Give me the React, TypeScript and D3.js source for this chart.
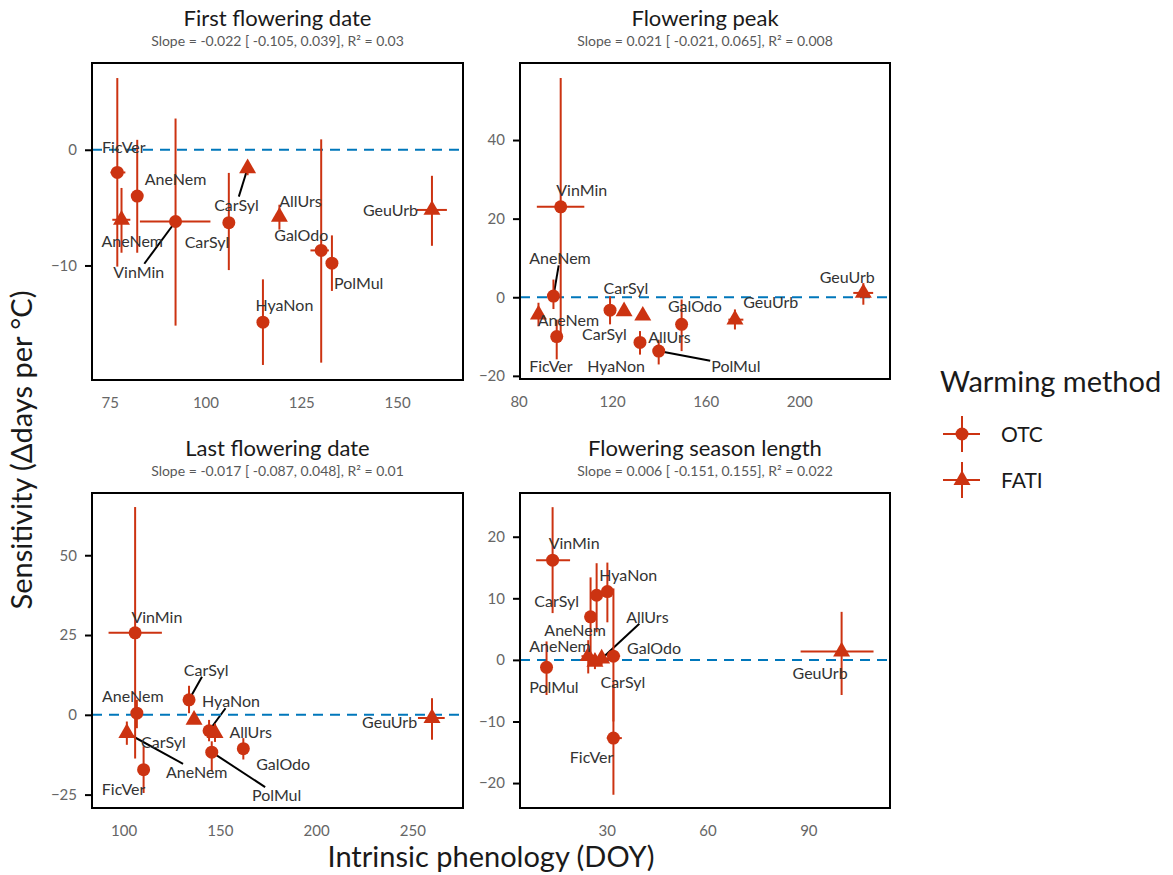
import React, { useRef, useEffect } from 'react'
import * as d3 from 'd3'

// species, method, doy, doyLo, doyHi, sensitivity, sensLo, sensHi
type Row = [string, string, number, number, number, number, number, number]
// label position (data units) and whether ggrepel drew a segment
type Lab = [number, number, boolean]

const methods = ['OTC', 'FATI']

const firstRows: Row[] = [
    ['FicVer', 'OTC', 77.0, 75.2, 79.1, -1.96, -10.1, 6.2],
    ['AneNem', 'OTC', 82.2, 81.5, 82.9, -4.0, -8.9, 0.86],
    ['AneNem', 'FATI', 78.1, 75.7, 80.4, -6.05, -8.9, -3.3],
    ['VinMin', 'OTC', 92.2, 82.9, 101.3, -6.2, -15.2, 2.7],
    ['CarSyl', 'OTC', 106.1, 105.5, 106.7, -6.3, -10.4, -2.0],
    ['CarSyl', 'FATI', 111.0, 110.3, 111.7, -1.6, -2.2, -1.0],
    ['AllUrs', 'FATI', 119.3, 118.6, 120.0, -5.8, -6.9, -4.75],
    ['GalOdo', 'OTC', 130.2, 127.4, 132.2, -8.7, -18.4, 0.9],
    ['PolMul', 'OTC', 133.0, 132.4, 133.6, -9.8, -12.2, -7.4],
    ['HyaNon', 'OTC', 115.0, 114.4, 115.6, -14.9, -18.6, -11.2],
    ['GeuUrb', 'FATI', 159.1, 155.2, 163.0, -5.2, -8.3, -2.25],
]
const firstLabels: Lab[] = [
    [78.7, 0.3, false],
    [92.2, -2.5, false],
    [80.9, -7.8, false],
    [82.6, -10.5, true],
    [100.4, -7.9, false],
    [108.1, -4.7, true],
    [124.8, -4.4, false],
    [125.0, -7.3, false],
    [140.0, -11.5, false],
    [120.6, -13.4, false],
    [148.3, -5.2, false],
]

const peakRows: Row[] = [
    ['VinMin', 'OTC', 98.0, 87.8, 108.1, 23.0, -9.8, 55.8],
    ['AneNem', 'OTC', 94.9, 94.0, 95.8, 0.3, -3.0, 4.5],
    ['AneNem', 'FATI', 88.5, 87.5, 89.5, -4.4, -7.4, -1.4],
    ['FicVer', 'OTC', 96.3, 95.5, 97.1, -10.0, -15.8, -5.7],
    ['CarSyl', 'OTC', 119.1, 118.3, 119.9, -3.3, -6.9, 0.25],
    ['CarSyl', 'FATI', 125.1, 124.3, 125.9, -3.6, -4.2, -3.0],
    ['AllUrs', 'FATI', 133.1, 132.3, 133.9, -4.7, -5.3, -4.1],
    ['HyaNon', 'OTC', 131.9, 131.1, 132.7, -11.5, -14.6, -8.6],
    ['PolMul', 'OTC', 139.9, 139.1, 140.7, -13.7, -17.1, -10.8],
    ['GalOdo', 'OTC', 149.7, 148.9, 150.5, -6.9, -13.7, -0.6],
    ['GeuUrb', 'FATI', 172.5, 169.7, 176.1, -5.7, -8.2, -3.1],
    ['GeuUrb', 'FATI', 227.4, 223.1, 231.6, 1.1, -1.9, 3.6],
]
const peakLabels: Lab[] = [
    [107.0, 27.4, false],
    [97.7, 10.0, true],
    [101.3, -5.7, false],
    [93.8, -17.4, false],
    [125.9, 2.4, false],
    [116.7, -9.3, false],
    [144.5, -10.1, false],
    [121.7, -17.4, false],
    [172.9, -17.4, true],
    [155.4, -2.1, false],
    [187.8, -1.0, false],
    [220.5, 5.3, false],
]

const lastRows: Row[] = [
    ['VinMin', 'OTC', 106.0, 92.2, 119.9, 25.7, -13.7, 65.1],
    ['AneNem', 'OTC', 106.9, 106.0, 107.8, 0.5, -4.2, 4.7],
    ['AneNem', 'FATI', 101.7, 100.8, 102.6, -5.7, -9.4, -2.1],
    ['FicVer', 'OTC', 110.4, 109.5, 111.3, -17.2, -24.5, -9.9],
    ['CarSyl', 'OTC', 134.0, 133.1, 134.9, 4.7, 0.5, 9.1],
    ['CarSyl', 'FATI', 136.6, 135.7, 137.5, -1.6, -2.5, -0.7],
    ['HyaNon', 'OTC', 144.4, 143.5, 145.3, -5.0, -8.3, -1.6],
    ['AllUrs', 'FATI', 147.5, 146.6, 148.4, -5.7, -8.5, -2.8],
    ['PolMul', 'OTC', 145.8, 144.9, 146.7, -11.7, -17.7, -8.3],
    ['GalOdo', 'OTC', 162.2, 161.3, 163.1, -10.6, -14.0, -7.3],
    ['GeuUrb', 'FATI', 260.2, 252.9, 266.8, -1.0, -7.8, 5.2],
]
const lastLabels: Lab[] = [
    [117.3, 30.9, false],
    [104.8, 5.9, false],
    [138.0, -17.7, true],
    [100.0, -23.2, false],
    [142.9, 14.3, true],
    [120.7, -8.3, false],
    [155.8, 4.4, true],
    [166.0, -5.2, false],
    [179.5, -25.0, true],
    [182.9, -15.1, false],
    [238.2, -2.1, false],
]

const lengthRows: Row[] = [
    ['VinMin', 'OTC', 13.9, 9.0, 19.1, 16.2, 7.6, 24.8],
    ['CarSyl', 'OTC', 27.0, 26.5, 27.5, 10.5, 4.5, 15.7],
    ['HyaNon', 'OTC', 30.2, 29.7, 30.7, 11.1, 6.1, 15.8],
    ['AneNem', 'OTC', 25.2, 24.7, 25.7, 7.0, 1.1, 13.4],
    ['AneNem', 'FATI', 24.5, 22.5, 26.5, 0.6, -2.2, 3.2],
    ['CarSyl', 'FATI', 26.5, 24.5, 28.5, -0.3, -1.5, 1.0],
    ['AllUrs', 'FATI', 28.5, 26.5, 30.5, 0.2, -0.8, 1.2],
    ['GalOdo', 'OTC', 32.0, 30.5, 34.0, 0.6, -10.0, 11.6],
    ['PolMul', 'OTC', 12.1, 11.6, 12.6, -1.2, -5.7, 3.0],
    ['FicVer', 'OTC', 32.0, 30.0, 34.5, -12.7, -21.9, -4.0],
    ['GeuUrb', 'FATI', 99.9, 87.7, 109.4, 1.35, -5.7, 7.8],
]
const lengthLabels: Lab[] = [
    [20.3, 19.0, false],
    [15.1, 9.7, false],
    [36.4, 13.8, false],
    [20.6, 4.9, false],
    [16.1, 2.3, false],
    [34.8, -3.5, false],
    [42.1, 7.1, true],
    [44.1, 2.0, false],
    [14.3, -4.3, false],
    [25.5, -15.7, false],
    [93.5, -2.0, false],
]

const panelTitles = ['First flowering date', 'Flowering peak', 'Last flowering date', 'Flowering season length']
const panelSubtitles = [
    'Slope = -0.022 [ -0.105, 0.039], R\u00b2 = 0.03',
    'Slope = 0.021 [ -0.021, 0.065], R\u00b2 = 0.008',
    'Slope = -0.017 [ -0.087, 0.048], R\u00b2 = 0.01',
    'Slope = 0.006 [ -0.151, 0.155], R\u00b2 = 0.022',
]
const xTickValues = [[75, 100, 125, 150], [80, 120, 160, 200], [100, 150, 200, 250], [30, 60, 90]]
const yTickValues = [[-10, 0], [-20, 0, 20, 40], [-25, 0, 25, 50], [-20, -10, 0, 10, 20]]
const xDomains: [number, number][] = [[70.4, 167.2], [80.6, 238.8], [83.6, 276.3], [4.2, 114.3]]
const yDomains: [number, number][] = [[-19.9, 7.5], [-20.8, 59.6], [-29.2, 69.5], [-24.05, 27.1]]

const RED = '#CC3311'
const BLUE = '#0077BB'
const FONT = "Lato, 'Open Sans', sans-serif"

const W = 1173
const H = 875

// panel boxes [left, right, top, bottom]
const boxes = [
    [92, 463, 63, 380],
    [520, 890, 63, 379],
    [92, 463, 493, 808],
    [520, 890, 493, 808],
]

const triangle = (r: number) => {
    const h = (r * Math.sqrt(3)) / 2
    return `M0,${-r}L${h},${r / 2}L${-h},${r / 2}Z`
}

export default function App() {
    const svgRef = useRef<SVGSVGElement>(null)

    useEffect(() => {
        if (!svgRef.current) return
        const svg = d3.select(svgRef.current)
        svg.selectAll('*').remove()

        const allRows = [firstRows, peakRows, lastRows, lengthRows]
        const allLabels = [firstLabels, peakLabels, lastLabels, lengthLabels]

        allRows.forEach((rows, i) => {
            const [left, right, top, bottom] = boxes[i]
            const x = d3.scaleLinear().domain(xDomains[i]).range([left, right])
            const y = d3.scaleLinear().domain(yDomains[i]).range([bottom, top])
            const g = svg.append('g')
            const cx = (left + right) / 2

            // titles
            g.append('text')
                .attr('x', cx)
                .attr('y', top - 37)
                .attr('text-anchor', 'middle')
                .style('font-size', '22px')
                .style('fill', '#1a1a1a')
                .text(panelTitles[i])
            g.append('text')
                .attr('x', cx)
                .attr('y', top - 17)
                .attr('text-anchor', 'middle')
                .style('font-size', '14px')
                .style('fill', '#595959')
                .text(panelSubtitles[i])

            // axes
            const yAxis = g
                .append('g')
                .attr('transform', `translate(${left},0)`)
                .call(d3.axisLeft(y).tickValues(yTickValues[i]).tickSize(7).tickPadding(8))
            const xAxis = g
                .append('g')
                .attr('transform', `translate(0,${bottom})`)
                .call(d3.axisBottom(x).tickValues(xTickValues[i]).tickSize(0).tickPadding(17))
            ;[yAxis, xAxis].forEach((ax) => {
                ax.select('.domain').remove()
                ax.selectAll('line').attr('stroke', '#000').attr('stroke-width', 2)
                ax.selectAll('text')
                    .style('font-size', '15px')
                    .style('font-family', FONT)
                    .attr('fill', '#666')
            })

            const clipId = `clip-${i}`
            g.append('clipPath')
                .attr('id', clipId)
                .append('rect')
                .attr('x', left)
                .attr('y', top)
                .attr('width', right - left)
                .attr('height', bottom - top)
            const plot = g.append('g').attr('clip-path', `url(#${clipId})`)

            // zero line
            plot.append('line')
                .attr('x1', left)
                .attr('x2', right)
                .attr('y1', y(0))
                .attr('y2', y(0))
                .attr('stroke', BLUE)
                .attr('stroke-width', 2)
                .attr('stroke-dasharray', '10,7')

            // error bars
            plot.selectAll('.vbar')
                .data(rows)
                .enter()
                .append('line')
                .attr('x1', (d) => x(d[2]))
                .attr('x2', (d) => x(d[2]))
                .attr('y1', (d) => y(d[6]))
                .attr('y2', (d) => y(d[7]))
                .attr('stroke', RED)
                .attr('stroke-width', 2)
            plot.selectAll('.hbar')
                .data(rows)
                .enter()
                .append('line')
                .attr('x1', (d) => x(d[3]))
                .attr('x2', (d) => x(d[4]))
                .attr('y1', (d) => y(d[5]))
                .attr('y2', (d) => y(d[5]))
                .attr('stroke', RED)
                .attr('stroke-width', 2)

            // points
            plot.selectAll('.pt')
                .data(rows)
                .enter()
                .append('path')
                .attr('transform', (d) => `translate(${x(d[2])},${y(d[5])})`)
                .attr('d', (d) => (d[1] === 'OTC' ? d3.symbol(d3.symbolCircle, Math.PI * 6.5 * 6.5)() : triangle(9.8)))
                .attr('fill', RED)

            // labels + repel segments
            const labs = allLabels[i]
            rows.forEach((d, j) => {
                const [lx, ly, seg] = labs[j]
                const t = g
                    .append('text')
                    .attr('x', x(lx))
                    .attr('y', y(ly))
                    .attr('text-anchor', 'middle')
                    .attr('dominant-baseline', 'central')
                    .style('font-size', '16px')
                    .style('fill', '#333')
                    .text(d[0])
                if (seg) {
                    const bb = (t.node() as SVGTextElement).getBBox()
                    const px = x(d[2])
                    const py = y(d[5])
                    const tx = bb.x + bb.width / 2
                    const ty = bb.y + bb.height / 2
                    const dx = px - tx
                    const dy = py - ty
                    const hw = bb.width / 2 + 1
                    const hh = bb.height / 2 - 2
                    const s = Math.min(Math.abs(hw / (dx || 1e-6)), Math.abs(hh / (dy || 1e-6)))
                    g.insert('line', 'text')
                        .attr('x1', tx + dx * s)
                        .attr('y1', ty + dy * s)
                        .attr('x2', px)
                        .attr('y2', py)
                        .attr('stroke', '#000')
                        .attr('stroke-width', 2)
                }
            })

            // panel border
            g.append('rect')
                .attr('x', left)
                .attr('y', top)
                .attr('width', right - left)
                .attr('height', bottom - top)
                .attr('fill', 'none')
                .attr('stroke', '#000')
                .attr('stroke-width', 2)
        })

        // axis titles
        svg.append('text')
            .attr('transform', `translate(32,450) rotate(-90)`)
            .attr('text-anchor', 'middle')
            .style('font-size', '29px')
            .style('fill', '#1a1a1a')
            .text('Sensitivity (\u0394days per \u00b0C)')
        svg.append('text')
            .attr('x', 491)
            .attr('y', 867)
            .attr('text-anchor', 'middle')
            .style('font-size', '29px')
            .style('fill', '#1a1a1a')
            .text('Intrinsic phenology (DOY)')

        // legend
        const legend = svg.append('g')
        legend.append('text')
            .attr('x', 940)
            .attr('y', 392)
            .style('font-size', '29px')
            .style('fill', '#1a1a1a')
            .text('Warming method')
        methods.forEach((m, k) => {
            const ky = 434 + k * 46
            legend.append('line')
                .attr('x1', 943)
                .attr('x2', 980)
                .attr('y1', ky)
                .attr('y2', ky)
                .attr('stroke', RED)
                .attr('stroke-width', 2)
            legend.append('line')
                .attr('x1', 962)
                .attr('x2', 962)
                .attr('y1', ky - 18)
                .attr('y2', ky + 18)
                .attr('stroke', RED)
                .attr('stroke-width', 2)
            legend.append('path')
                .attr('transform', `translate(962,${ky})`)
                .attr('d', m === 'OTC' ? d3.symbol(d3.symbolCircle, Math.PI * 6.5 * 6.5)() : triangle(9.8))
                .attr('fill', RED)
            legend.append('text')
                .attr('x', 1001)
                .attr('y', ky + 8)
                .style('font-size', '21px')
                .style('fill', '#1a1a1a')
                .text(m)
        })
    }, [])

    return (
        <svg
            ref={svgRef}
            width={W}
            height={H}
            style={{ position: 'absolute', left: 0, top: 0, background: '#fff', fontFamily: FONT }}
        />
    )
}
